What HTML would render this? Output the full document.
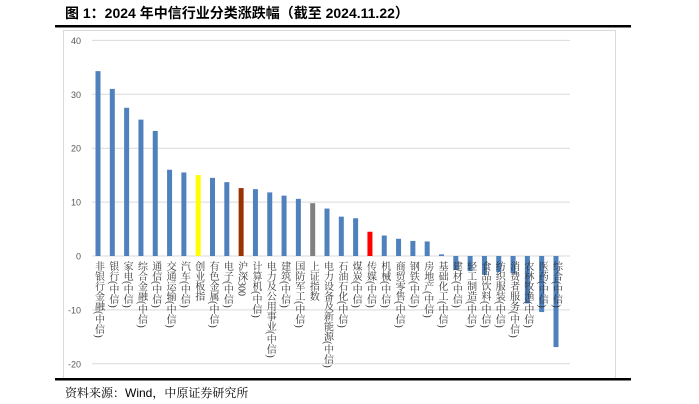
<!DOCTYPE html>
<html><head><meta charset="utf-8"><style>
body{margin:0;background:#fff;}
svg{display:block;font-family:"Liberation Sans","Noto Sans CJK SC",sans-serif;}
</style></head><body>
<svg id="c" width="699" height="404" viewBox="0 0 699 404">
<text x="65" y="18" font-size="14" font-weight="bold" fill="#000">图 1：2024 年中信行业分类涨跌幅（截至 2024.11.22）</text>
<rect x="55" y="25" width="576" height="2.5" fill="#000"/>
<rect x="63.5" y="30.5" width="552" height="348" fill="none" stroke="#d9d9d9"/>
<rect x="55" y="378" width="576" height="2.5" fill="#000"/>
<text x="65" y="397" font-size="12" fill="#000" font-family="'Liberation Sans','Noto Serif CJK SC',serif">资料来源：Wind，中原证券研究所</text>
<g id="grid"></g><g id="bars"></g><g id="labels"></g>
</svg>
<script>
const categories=["非银行金融(中信)","银行(中信)","家电(中信)","综合金融(中信)","通信(中信)","交通运输(中信)","汽车(中信)","创业板指","有色金属(中信)","电子(中信)","沪深300","计算机(中信)","电力及公用事业(中信)","建筑(中信)","国防军工(中信)","上证指数","电力设备及新能源(中信)","石油石化(中信)","煤炭(中信)","传媒(中信)","机械(中信)","商贸零售(中信)","钢铁(中信)","房地产(中信)","基础化工(中信)","建材(中信)","轻工制造(中信)","食品饮料(中信)","纺织服装(中信)","消费者服务(中信)","农林牧渔(中信)","医药(中信)","综合(中信)"];
const values=[34.3,31.0,27.5,25.3,23.2,16.0,15.5,15.0,14.5,13.7,12.6,12.4,11.8,11.2,10.6,9.8,8.8,7.3,7.0,4.5,3.8,3.2,2.8,2.7,0.3,-2.6,-2.8,-3.5,-3.0,-3.2,-8.8,-10.4,-16.9];
const colors=["#4f81bd","#4f81bd","#4f81bd","#4f81bd","#4f81bd","#4f81bd","#4f81bd","#ffff00","#4f81bd","#4f81bd","#993300","#4f81bd","#4f81bd","#4f81bd","#4f81bd","#808080","#4f81bd","#4f81bd","#4f81bd","#ff0000","#4f81bd","#4f81bd","#4f81bd","#4f81bd","#4f81bd","#4f81bd","#4f81bd","#4f81bd","#4f81bd","#4f81bd","#4f81bd","#4f81bd","#4f81bd"];
const ticks=[40,30,20,10,0,-10,-20];
const NS="http://www.w3.org/2000/svg";
const y=v=>256-v*5.39;
const step=(556-98)/(categories.length-1);
const x=i=>98+i*step;
const grid=document.getElementById('grid'),bars=document.getElementById('bars'),labels=document.getElementById('labels');
ticks.forEach(t=>{
  const l=document.createElementNS(NS,'line');
  
  
  l.setAttribute('x1',92);l.setAttribute('x2',570);l.setAttribute('y1',y(t));l.setAttribute('y2',y(t));
  l.setAttribute('stroke','#d9d9d9');l.setAttribute('stroke-width',1);
  grid.appendChild(l);
  const tx=document.createElementNS(NS,'text');
  
  
  tx.setAttribute('x',81);tx.setAttribute('y',y(t)+3.5);tx.setAttribute('text-anchor','end');
  tx.setAttribute('font-size',9);tx.setAttribute('fill','#595959');tx.textContent=t;
  grid.appendChild(tx);
});
values.forEach((v,i)=>{
  const r=document.createElementNS(NS,'rect');
  
  
  r.setAttribute('x',x(i)-2.5);r.setAttribute('width',5);
  r.setAttribute('y',Math.min(y(v),y(0)));r.setAttribute('height',Math.abs(y(v)-y(0)));
  r.setAttribute('fill',colors[i]);
  bars.appendChild(r);
  const t=document.createElementNS(NS,'text');
  
  
  t.setAttribute('x',x(i));t.setAttribute('y',261);
  t.setAttribute('font-size',10);t.setAttribute('fill','#333');
  t.setAttribute('style','writing-mode:vertical-rl;font-family:"Liberation Serif","Noto Serif CJK SC",serif;');
  t.textContent=categories[i];
  labels.appendChild(t);
});
</script>
</body></html>
